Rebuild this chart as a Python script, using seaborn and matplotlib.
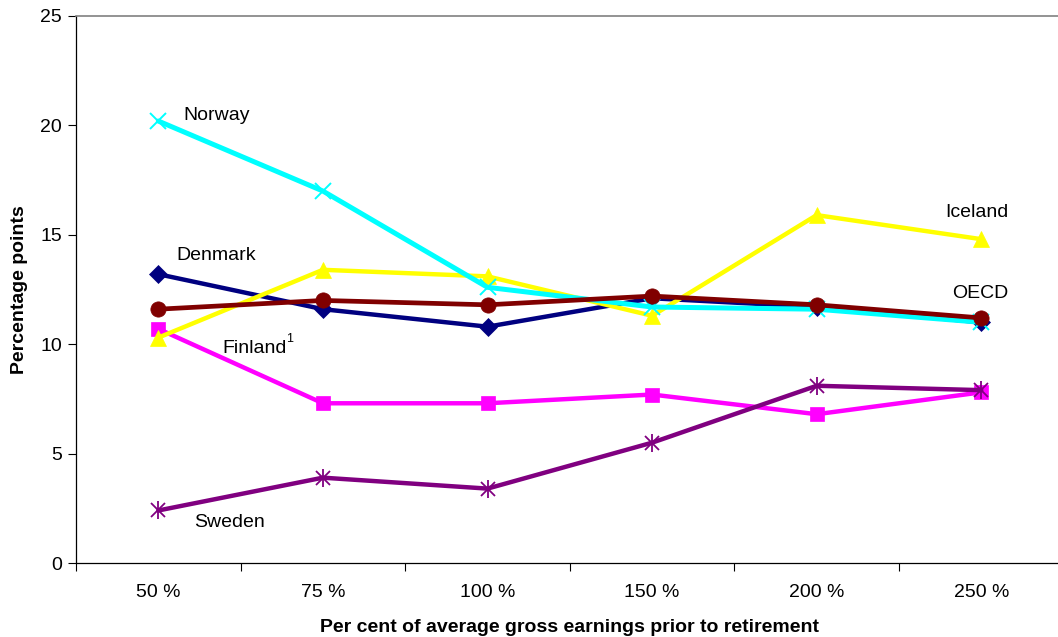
import matplotlib
matplotlib.use("Agg")
import matplotlib.pyplot as plt
import seaborn as sns
import pandas as pd
import numpy as np

sns.set_theme(style="white")
plt.rcParams["font.family"] = ["Liberation Sans", "DejaVu Sans"]
plt.rcParams["text.color"] = "black"
plt.rcParams["axes.labelcolor"] = "black"

categories = ["50 %", "75 %", "100 %", "150 %", "200 %", "250 %"]

denmark = [13.2, 11.6, 10.8, 12.1, 11.7, 11.0]
finland = [10.7, 7.3, 7.3, 7.7, 6.8, 7.8]
iceland = [10.3, 13.4, 13.1, 11.3, 15.9, 14.8]
norway = [20.2, 17.0, 12.6, 11.7, 11.6, 11.0]
sweden = [2.4, 3.9, 3.4, 5.5, 8.1, 7.9]
oecd = [11.6, 12.0, 11.8, 12.2, 11.8, 11.2]

y_ticks = [0, 5, 10, 15, 20, 25]

series = {
    "Denmark": denmark,
    "Finland": finland,
    "Iceland": iceland,
    "Norway": norway,
    "Sweden": sweden,
    "OECD": oecd,
}

styles = {
    "Denmark": dict(color="#000080", marker="D", ms=9, lw=3.2),
    "Finland": dict(color="#FF00FF", marker="s", ms=10, lw=3.2),
    "Iceland": dict(color="#FFFF00", marker="^", ms=11, lw=3.2),
    "Norway": dict(color="#00FFFF", marker="x", ms=11, lw=3.6),
    "Sweden": dict(color="#800080", marker=None, ms=10, lw=3.2),
    "OECD": dict(color="#800000", marker="o", ms=11, lw=3.4),
}

rows = []
for name, vals in series.items():
    for i, v in enumerate(vals):
        rows.append({"country": name, "pos": i, "value": v})
df = pd.DataFrame(rows)

fig = plt.figure(figsize=(10.58, 6.37), dpi=100)
ax = fig.add_axes([76 / 1058, 74 / 637, 987.6 / 1058, 547 / 637])

for name in series:
    st = styles[name]
    sub = df[df["country"] == name]
    sns.lineplot(data=sub, x="pos", y="value", ax=ax, color=st["color"],
                 linewidth=st["lw"], marker=st["marker"], markersize=st["ms"],
                 markeredgecolor=st["color"], markeredgewidth=1.4 if st["marker"] == "x" else 0.5,
                 legend=False, zorder=3)
    if name == "Sweden":
        # asterisk marker: an x with a vertical stroke through it
        ax.plot(sub["pos"], sub["value"], linestyle="none", marker="x", ms=10,
                mew=1.3, color=st["color"], zorder=4)
        ax.plot(sub["pos"], sub["value"], linestyle="none", marker="|", ms=13,
                mew=1.3, color=st["color"], zorder=4)

ax.set_xlim(-0.5, 5.5)
ax.set_ylim(0, 25)
ax.set_yticks(y_ticks)
ax.set_yticklabels([str(t) for t in y_ticks], fontsize=14)
ax.set_xticks(range(len(categories)))
ax.set_xticklabels(categories, fontsize=14)
ax.tick_params(axis="x", which="major", length=0, pad=15)
ax.set_xticks(np.arange(-0.5, 5.5, 1.0), minor=True)
ax.tick_params(axis="x", which="minor", length=6, width=0.8, color="black", direction="out")
ax.tick_params(axis="y", length=6, width=0.8, color="black", direction="out", pad=4)
ax.tick_params(axis="both", colors="black", labelcolor="black")
ax.tick_params(axis="x", which="minor", bottom=True)
ax.tick_params(axis="y", left=True)

for side in ["left", "bottom"]:
    ax.spines[side].set_color("black")
    ax.spines[side].set_linewidth(0.9)
ax.spines["top"].set_color("#808080")
ax.spines["top"].set_linewidth(1.2)
ax.spines["right"].set_visible(False)

ax.set_xlabel("Per cent of average gross earnings prior to retirement",
              fontsize=14, fontweight="bold", labelpad=13, color="black")
ax.set_ylabel("Percentage points", fontsize=14, fontweight="bold", labelpad=9, color="black")

label_kw = dict(fontsize=14, color="black", ha="left", va="center", zorder=6)
ax.text(0.15, 20.45, "Norway", **label_kw)
ax.text(0.11, 14.05, "Denmark", **label_kw)
ax.text(4.78, 16.0, "Iceland", **label_kw)
ax.text(4.82, 12.3, "OECD", **label_kw)
ax.text(0.39, 9.8, "Finland", **label_kw)
ax.text(0.778, 10.25, "1", fontsize=9, color="black", ha="left", va="center", zorder=6)
ax.text(0.22, 1.85, "Sweden", **label_kw)

fig.savefig("out.png", dpi=100)
